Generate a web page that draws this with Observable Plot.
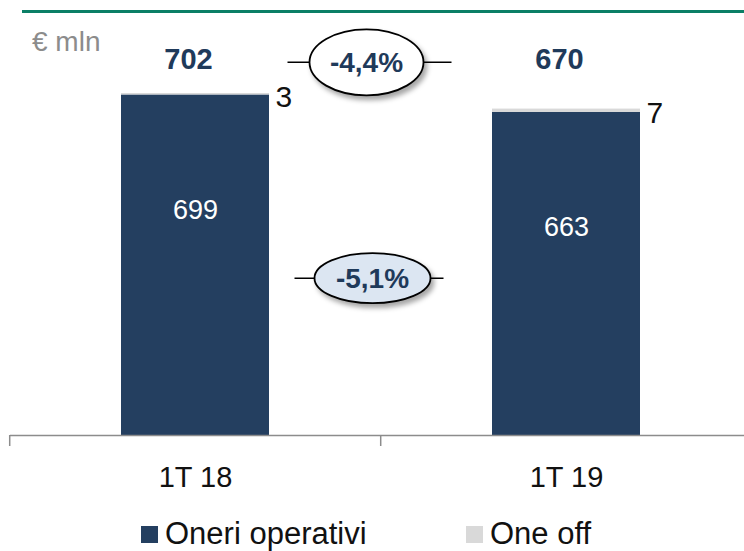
<!DOCTYPE html>
<html>
<head>
<meta charset="utf-8">
<script src="https://cdn.jsdelivr.net/npm/d3@7"></script>
<script src="https://cdn.jsdelivr.net/npm/@observablehq/plot@0.6"></script>
<style>
  html, body { margin: 0; padding: 0; background: #fff; }
  #wrap { position: relative; width: 744px; height: 551px; overflow: hidden; font-family: "Liberation Sans", Arial, sans-serif; }
  #topline { position: absolute; left: 22px; top: 10px; width: 722px; height: 3px; background: #0b7f66; }
  #unit { position: absolute; left: 32px; top: 25px; font-size: 28px; line-height: 34px; color: #8c8c8c; }
  #chart { position: absolute; left: 0; top: 0; }
  #legend { position: absolute; left: 0; top: 517px; width: 744px; height: 34px; font-size: 31px; color: #111; }
  .li { position: absolute; top: 0; display: flex; align-items: center; height: 34px; line-height: 34px; }
  .sw { width: 17px; height: 17px; margin-right: 7px; }
</style>
</head>
<body>
<div id="wrap">
  <div id="chart"></div>
  <div id="topline"></div>
  <div id="unit">€ mln</div>
  <div id="legend"></div>
</div>
<script>
const categories = ["1T 18", "1T 19"];
const series = ["Oneri operativi", "One off"];
const oneriOperativi = [699, 663];
const oneOff = [3, 7];
const totals = [702, 670];
const changeTotal = "-4,4%";
const changeOneri = "-5,1%";
const colors = ["#243f60", "#d9d9d9"];

const rows = [];
categories.forEach((c, i) => {
  rows.push({cat: c, series: series[0], value: oneriOperativi[i]});
  rows.push({cat: c, series: series[1], value: oneOff[i]});
});
const totalRows = categories.map((c, i) => ({cat: c, total: totals[i], oneOff: oneOff[i], oneri: oneriOperativi[i]}));

const font = "Liberation Sans, Arial, sans-serif";

const plot = Plot.plot({
  width: 744,
  height: 515,
  marginLeft: 10,
  marginRight: 0,
  marginTop: 0,
  marginBottom: 80,
  style: {fontFamily: font, background: "transparent", overflow: "visible"},
  x: {domain: categories, range: [10, 752], paddingInner: 0.6, paddingOuter: 0.3, axis: null},
  y: {domain: [0, 702], range: [435, 93], axis: null},
  color: {domain: series, range: colors},
  marks: [
    Plot.barY(rows, {x: "cat", y: "value", fill: "series", order: series}),
    Plot.ruleY([0], {stroke: "#8c8c8c", strokeWidth: 1.5}),
    Plot.text(totalRows, {x: "cat", frameAnchor: "top", lineAnchor: "middle", dy: 59, dx: -7, text: d => String(d.total), fontSize: 29, fontWeight: "bold", fill: "#1f3a5a"}),
    Plot.text(totalRows, {x: "cat", y: "total", dy: 4, dx: 80, textAnchor: "start", text: d => String(d.oneOff), fontSize: 30, fill: "#111"}),
    Plot.text(totalRows, {x: "cat", y: "oneri", dy: 115, text: d => String(d.oneri), fontSize: 27, fill: "#fff"}),
    Plot.text(categories, {x: d => d, y: () => 0, dy: 42, text: d => d, fontSize: 29, fill: "#111"})
  ]
});
document.getElementById("chart").appendChild(plot);

// annotations and band ticks
const xs = plot.scale("x");
const ys = plot.scale("y");
const svg = d3.select(plot);
const step = xs.step;
const bw = xs.bandwidth;
const tickG = svg.append("g");
categories.forEach(c => {
  const bx = xs.apply(c) - step * 0.3;
  tickG.append("line").attr("x1", bx).attr("x2", bx).attr("y1", ys.apply(0)).attr("y2", ys.apply(0) + 11)
    .attr("stroke", "#8c8c8c").attr("stroke-width", 1.5);
});

const defs = svg.append("defs");
const f = defs.append("filter").attr("id", "shadow").attr("x", "-20%").attr("y", "-20%").attr("width", "150%").attr("height", "160%");
f.append("feDropShadow").attr("dx", 3).attr("dy", 4).attr("stdDeviation", 2.5).attr("flood-color", "#000").attr("flood-opacity", 0.35);

const mid = (xs.apply(categories[0]) + xs.apply(categories[1])) / 2 + bw / 2;
function bubble(cx, cy, rx, ry, fill, label, left, right) {
  const g = svg.append("g");
  g.append("line").attr("x1", cx - rx - left).attr("x2", cx + rx + right).attr("y1", cy).attr("y2", cy).attr("stroke", "#000").attr("stroke-width", 1.5);
  g.append("ellipse").attr("cx", cx).attr("cy", cy).attr("rx", rx).attr("ry", ry).attr("fill", fill)
    .attr("stroke", "#000").attr("stroke-width", 1.8).attr("filter", "url(#shadow)");
  g.append("text").attr("x", cx).attr("y", cy).attr("dy", "0.36em").attr("text-anchor", "middle")
    .attr("font-family", font).attr("font-weight", "bold").attr("font-size", 28).attr("fill", "#1f3a5a").text(label);
}
bubble(mid - 14, ys.apply(765), 57, 33, "#ffffff", changeTotal, 22, 28);
bubble(mid - 8, ys.apply(322), 58, 25, "#dce6f2", changeOneri, 20, 13);

// legend
const legend = document.getElementById("legend");
const legendX = [141, 466];
series.forEach((s, i) => {
  const item = document.createElement("div");
  item.className = "li";
  item.style.left = legendX[i] + "px";
  item.innerHTML = `<span class="sw" style="background:${colors[i]}"></span><span>${s}</span>`;
  legend.appendChild(item);
});
</script>
</body>
</html>
